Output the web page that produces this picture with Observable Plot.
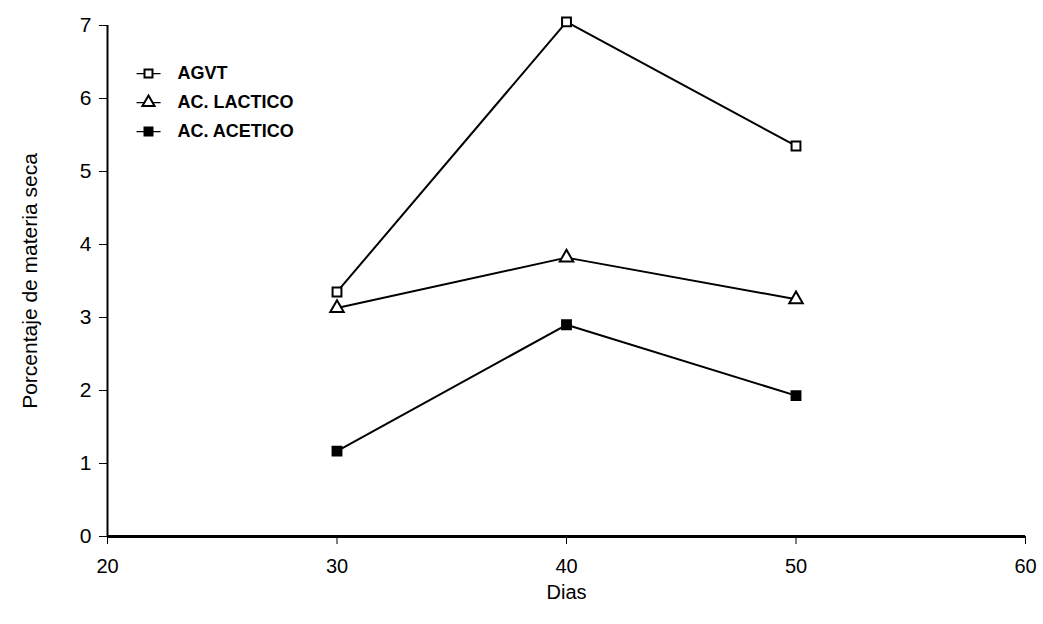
<!DOCTYPE html>
<html><head><meta charset="utf-8">
<script src="https://cdn.jsdelivr.net/npm/d3@7"></script>
<script src="https://cdn.jsdelivr.net/npm/@observablehq/plot@0.6"></script>
<style>
body{margin:0;background:#fff;font-family:"Liberation Sans",Arial,sans-serif;}
#chart{position:relative;width:1043px;height:624px;}
</style></head>
<body><div id="chart"></div>
<script>
const dias = [30, 40, 50];
const series = ["AGVT", "AC. LACTICO", "AC. ACETICO"];
const agvt = [3.35, 7.05, 5.35];
const lactico = [3.13, 3.82, 3.25];
const acetico = [1.17, 2.9, 1.93];
const xTicks = [20, 30, 40, 50, 60];
const yTicks = [0, 1, 2, 3, 4, 5, 6, 7];
const symbols = ["square", "triangle", "square"];
const fills = ["white", "white", "black"];

const valuesBySeries = [agvt, lactico, acetico];
const data = series.flatMap((s, i) => dias.map((d, j) => ({serie: s, dia: d, v: valuesBySeries[i][j]})));

const marks = [
  Plot.axisX({ticks: xTicks, tickSize: 8, tickPadding: 14, fontSize: 20, label: "Dias", labelAnchor: "center", labelArrow: "none", labelOffset: 62}),
  Plot.axisY({ticks: yTicks, tickFormat: "d", tickSize: 8, tickPadding: 8, fontSize: 21, label: "Porcentaje de materia seca", labelAnchor: "center", labelArrow: "none", labelOffset: 85}),
  Plot.ruleY([0], {strokeWidth: 3}),
  Plot.ruleX([20], {strokeWidth: 2}),
];
series.forEach((s, i) => {
  const d = data.filter(r => r.serie === s);
  marks.push(Plot.line(d, {x: "dia", y: "v", stroke: "black", strokeWidth: 2}));
  marks.push(Plot.dot(d, {x: "dia", y: "v", symbol: () => symbols[i], r: 5, stroke: "black", strokeWidth: 2, fill: fills[i]}));
  // legend
  marks.push(Plot.text([s], {frameAnchor: "top-left", lineAnchor: "middle", textAnchor: "middle", dx: 41, dy: 48 + i * 29, text: () => "——", fontSize: 12, fontWeight: "bold"}));
  marks.push(Plot.dot([s], {frameAnchor: "top-left", dx: 41, dy: 48 + i * 29, symbol: () => symbols[i], r: 4.5, stroke: "black", strokeWidth: 2, fill: fills[i]}));
  marks.push(Plot.text([s], {frameAnchor: "top-left", lineAnchor: "middle", dx: 70, dy: 48 + i * 29, text: d => d, textAnchor: "start", fontSize: 18, fontWeight: "bold"}));
});

const chart = Plot.plot({
  width: 1043, height: 624,
  marginLeft: 107, marginRight: 18, marginTop: 25, marginBottom: 88,
  style: {fontFamily: "Liberation Sans, Arial, sans-serif", color: "black", background: "white"},
  x: {domain: [20, 60]},
  y: {domain: [0, 7]},
  marks
});
document.getElementById("chart").appendChild(chart);
</script>
</body></html>
